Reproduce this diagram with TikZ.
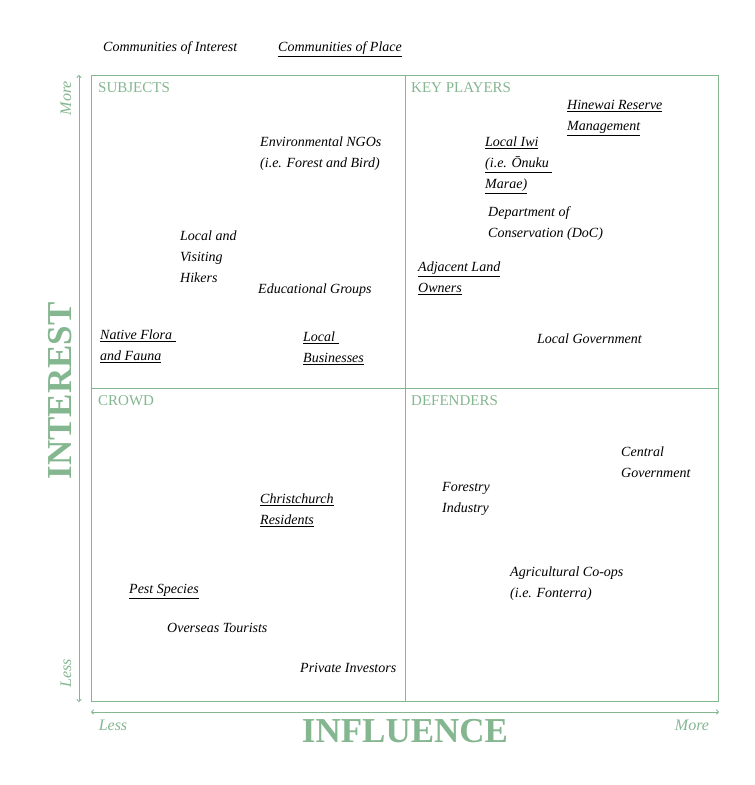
\documentclass[tikz,border=0pt]{standalone}
\usepackage{fontspec}
\setmainfont{Liberation Serif}
\usetikzlibrary{arrows.meta}
\definecolor{sage}{RGB}{132,182,144}
\newcommand{\myul}[1]{\underline{#1}}
\newcommand{\itemfont}{\fontsize{14}{21}\selectfont\itshape}
\begin{document}
\begin{tikzpicture}[x=1pt,y=-1pt,
  item/.style={anchor=north west,inner sep=0pt,align=left,font=\itemfont,text=black},
  quad/.style={anchor=west,inner sep=0pt,font=\fontsize{15}{18}\selectfont,text=sage},
  axislbl/.style={inner sep=0pt,font=\fontsize{16}{18}\selectfont\itshape,text=sage},
  axistitle/.style={inner sep=0pt,font=\fontsize{35}{40}\selectfont\bfseries,text=sage},
  frame/.style={draw=sage,line width=0.8pt},
  axis/.style={draw=sage,line width=0.8pt,{To[length=3pt,width=5pt]}-{To[length=3pt,width=5pt]}}]
\useasboundingbox (0,0) rectangle (755,785);
% frame
\draw[frame] (91,75) rectangle (718,701);
\draw[frame] (405,75) -- (405,701);
\draw[frame] (91,388) -- (718,388);
% axes
\coordinate (vtop) at (79,75);
\coordinate (vbot) at (79,702);
\coordinate (hl) at (91,712);
\coordinate (hr) at (719,712);
\draw[axis] (vtop) -- (vbot);
\draw[axis] (hl) -- (hr);
\node[axislbl,rotate=90] (vmore) at (66,98) {More};
\node[axislbl,rotate=90] (vless) at (66,673) {Less};
\node[axislbl] (hless) at (113,725) {Less};
\node[axislbl] (hmore) at (692,725) {More};
\node[axistitle,rotate=90] (interest) at (60,391) {INTEREST};
\node[axistitle] (influence) at (405,731) {INFLUENCE};
% legend
\node[item] (coi) at (103,37) {\strut Communities of Interest};
\node[item] (cop) at (278,37) {\strut\myul{Communities of Place}};
% quadrant labels
\node[quad] (subj) at (98,88) {SUBJECTS};
\node[quad] (keyp) at (411,88) {KEY PLAYERS};
\node[quad] (crowd) at (98,401) {CROWD};
\node[quad] (def) at (411,401) {DEFENDERS};
% key players
\node[item] (hinewai) at (567,95) {\strut\myul{Hinewai Reserve}\\\strut\myul{Management}};
\node[item] (iwi) at (485,132) {\strut\myul{Local Iwi}\\\strut\myul{(i.e. Ōnuku\ }\\\strut\myul{Marae)}};
\node[item] (doc) at (488,202) {\strut Department of\\\strut Conservation (DoC)};
\node[item] (adj) at (418,257) {\strut\myul{Adjacent Land}\\\strut\myul{Owners}};
\node[item] (localgov) at (537,329) {\strut Local Government};
% subjects
\node[item] (ngo) at (260,132) {\strut Environmental NGOs\\\strut (i.e. Forest and Bird)};
\node[item] (hikers) at (180,226) {\strut Local and\\\strut Visiting\\\strut Hikers};
\node[item] (edu) at (258,279) {\strut Educational Groups};
\node[item] (flora) at (100,325) {\strut\myul{Native Flora\ }\\\strut\myul{and Fauna}};
\node[item] (bus) at (303,327) {\strut\myul{Local\ }\\\strut\myul{Businesses}};
% crowd
\node[item] (chch) at (260,489) {\strut\myul{Christchurch}\\\strut\myul{Residents}};
\node[item] (pest) at (129,579) {\strut\myul{Pest Species}};
\node[item] (tour) at (167,618) {\strut Overseas Tourists};
\node[item] (inv) at (300,658) {\strut Private Investors};
% defenders
\node[item] (cgov) at (621,442) {\strut Central\\\strut Government};
\node[item] (forest) at (442,477) {\strut Forestry\\\strut Industry};
\node[item] (agri) at (510,562) {\strut Agricultural Co-ops\\\strut (i.e. Fonterra)};
\end{tikzpicture}
\end{document}
